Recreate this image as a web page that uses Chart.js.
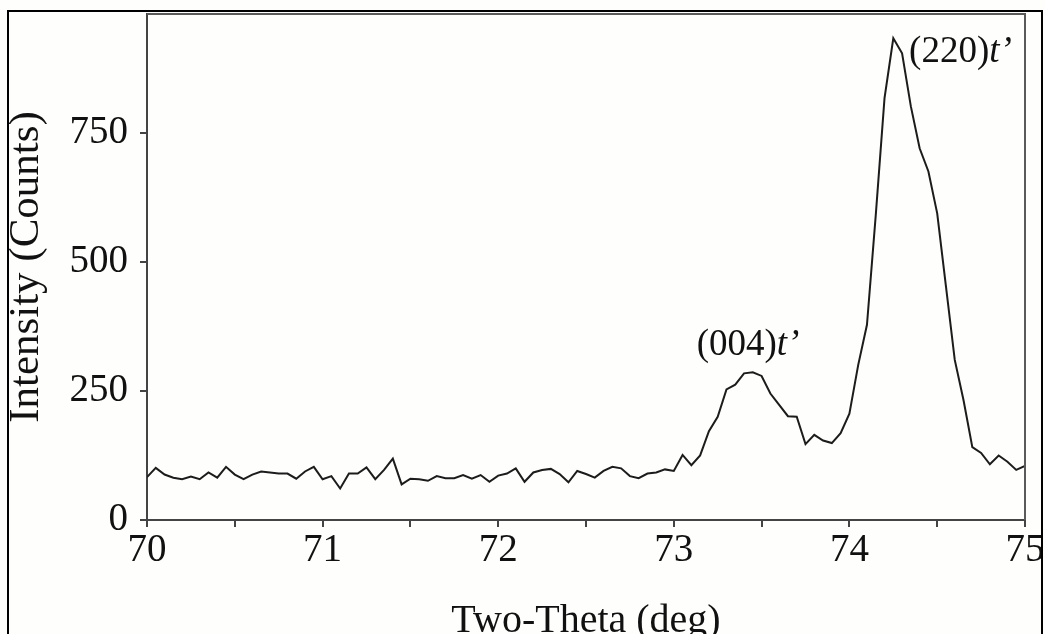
<!DOCTYPE html>
<html>
<head>
<meta charset="utf-8">
<title>XRD scan 70-75 deg</title>
<script src="https://cdn.jsdelivr.net/npm/chart.js@4.4.1/dist/chart.umd.min.js"></script>
<style>
  html, body { margin: 0; padding: 0; background: #fefefc; }
  #wrap { width: 1045px; height: 634px; }
</style>
</head>
<body>
<div id="wrap"><canvas id="xrd" width="1045" height="634"></canvas></div>
<script>
// Two-theta positions of the scan (deg)
var twoTheta = [
  70.00, 70.05, 70.10, 70.15, 70.20, 70.25, 70.30, 70.35, 70.40, 70.45,
  70.50, 70.55, 70.60, 70.65, 70.70, 70.75, 70.80, 70.85, 70.90, 70.95,
  71.00, 71.05, 71.10, 71.15, 71.20, 71.25, 71.30, 71.35, 71.40, 71.45,
  71.50, 71.55, 71.60, 71.65, 71.70, 71.75, 71.80, 71.85, 71.90, 71.95,
  72.00, 72.05, 72.10, 72.15, 72.20, 72.25, 72.30, 72.35, 72.40, 72.45,
  72.50, 72.55, 72.60, 72.65, 72.70, 72.75, 72.80, 72.85, 72.90, 72.95,
  73.00, 73.05, 73.10, 73.15, 73.20, 73.25, 73.30, 73.35, 73.40, 73.45,
  73.50, 73.55, 73.60, 73.65, 73.70, 73.75, 73.80, 73.85, 73.90, 73.95,
  74.00, 74.05, 74.10, 74.15, 74.20, 74.25, 74.30, 74.35, 74.40, 74.45,
  74.50, 74.55, 74.60, 74.65, 74.70, 74.75, 74.80, 74.85, 74.90, 74.95,
  75.00
];

// Measured intensity (counts)
var intensity = [
  83, 101, 88, 82, 79, 84, 79, 92, 82, 103,
  88, 79, 88, 94, 92, 90, 90, 80, 94, 103,
  79, 85, 61, 90, 90, 102, 79, 97, 119, 69,
  80, 79, 76, 85, 81, 81, 87, 80, 87, 74,
  86, 90, 100, 74, 92, 97, 99, 89, 73, 95,
  89, 82, 95, 103, 100, 85, 81, 90, 92, 98,
  95, 126, 106, 125, 172, 200, 253, 262, 284, 286,
  279, 245, 223, 201, 200, 147, 165, 154, 149, 168,
  206, 300, 378, 590, 817, 933, 904, 801, 720, 675,
  594, 452, 310, 232, 141, 130, 108, 125, 113, 97,
  105
];

var yTicks = [0, 250, 500, 750];
var xTicks = [70, 71, 72, 73, 74, 75];

// reflection names
var peakNames = ["(004)", "(220)"];

var serif = '"Liberation Serif", "Times New Roman", serif';

// where the reflection names sit (data units: left edge / baseline)
var peakNameAnchors = [
  { x: 73.13, y: 320 },
  { x: 74.34, y: 888 }
];

var points = twoTheta.map(function (t, i) { return { x: t, y: intensity[i] }; });

var pageBackground = {
  id: "pageBackground",
  beforeDraw: function (chart) {
    var ctx = chart.ctx;
    ctx.save();
    ctx.fillStyle = "#fefefc";
    ctx.fillRect(0, 0, chart.width, chart.height);
    ctx.restore();
  }
};

// top and right edges of the plot box, plus the outer figure border
var frameLines = {
  id: "frameLines",
  afterDraw: function (chart) {
    var ctx = chart.ctx;
    var a = chart.chartArea;
    ctx.save();
    ctx.strokeStyle = "#5a5a5a";
    ctx.lineWidth = 2;
    ctx.beginPath();
    ctx.moveTo(a.left, a.top);
    ctx.lineTo(a.right, a.top);
    ctx.lineTo(a.right, a.bottom);
    ctx.stroke();

    ctx.strokeStyle = "#000";
    ctx.lineWidth = 2;
    ctx.beginPath();
    ctx.moveTo(8, chart.height);
    ctx.lineTo(8, 11);
    ctx.lineTo(1042, 11);
    ctx.lineTo(1042, chart.height);
    ctx.stroke();
    ctx.restore();
  }
};

// "(hkl)t'" labels with an italic phase letter
var peakNameLabels = {
  id: "peakNameLabels",
  afterDatasetsDraw: function (chart) {
    var ctx = chart.ctx;
    var xs = chart.scales.x, ys = chart.scales.y;
    ctx.save();
    ctx.fillStyle = "#111";
    ctx.textBaseline = "alphabetic";
    ctx.textAlign = "left";
    peakNames.forEach(function (name, i) {
      var px = xs.getPixelForValue(peakNameAnchors[i].x);
      var py = ys.getPixelForValue(peakNameAnchors[i].y);
      ctx.font = "37px " + serif;
      ctx.fillText(name, px, py);
      var w = ctx.measureText(name).width;
      ctx.font = "italic 37px " + serif;
      ctx.fillText("t\u2019", px + w, py);
    });
    ctx.restore();
  }
};

var ctx = document.getElementById("xrd").getContext("2d");
var xrdChart = new Chart(ctx, {
  type: "line",
  data: {
    datasets: [{
      data: points,
      borderColor: "#1c1c1c",
      borderWidth: 2,
      pointRadius: 0,
      tension: 0,
      fill: false
    }]
  },
  options: {
    responsive: false,
    animation: false,
    layout: { padding: { top: 14, right: 20, left: 0, bottom: 0 } },
    plugins: {
      legend: { display: false },
      tooltip: { enabled: false }
    },
    scales: {
      x: {
        type: "linear",
        min: 70,
        max: 75,
        afterFit: function (scale) { scale.height = 114; },
        afterBuildTicks: function (scale) {
          var t = [];
          xTicks.forEach(function (v, i) {
            t.push({ value: v });
            if (i < xTicks.length - 1) t.push({ value: v + 0.5 });
          });
          scale.ticks = t;
        },
        ticks: {
          autoSkip: false,
          maxRotation: 0,
          padding: 0,
          color: "#111",
          font: { family: serif, size: 39 },
          callback: function (v) { return xTicks.indexOf(v) >= 0 ? String(v) : ""; }
        },
        grid: {
          drawOnChartArea: false,
          drawTicks: true,
          tickLength: 7,
          color: "#444",
          lineWidth: 2
        },
        border: { display: true, color: "#444", width: 2 },
        title: {
          display: true,
          text: "Two-Theta (deg)",
          color: "#111",
          font: { family: serif, size: 40, lineHeight: 1 },
          padding: { top: 0, bottom: -7 }
        }
      },
      y: {
        min: 0,
        max: 980,
        afterFit: function (scale) {
          scale.width = 147;
          // the top tick sits well below the box edge, no extra room needed
          scale.paddingTop = 0;
          scale.paddingBottom = 0;
        },
        afterBuildTicks: function (scale) {
          scale.ticks = yTicks.map(function (v) { return { value: v }; });
        },
        ticks: {
          padding: 12,
          color: "#111",
          font: { family: serif, size: 39 }
        },
        grid: {
          drawOnChartArea: false,
          drawTicks: true,
          tickLength: 7,
          color: "#444",
          lineWidth: 2
        },
        border: { display: true, color: "#444", width: 2 },
        title: {
          display: true,
          text: "Intensity (Counts)",
          color: "#111",
          font: { family: serif, size: 43, lineHeight: 1 },
          padding: { top: 5, bottom: 0 }
        }
      }
    }
  },
  plugins: [pageBackground, frameLines, peakNameLabels]
});
</script>
</body>
</html>
